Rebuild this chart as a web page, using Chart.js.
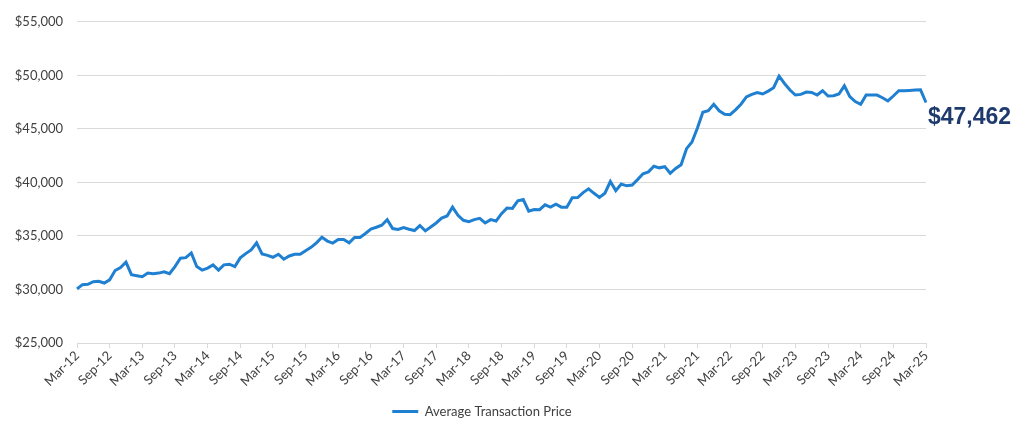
<!DOCTYPE html>
<html>
<head>
<meta charset="utf-8">
<script src="https://cdn.jsdelivr.net/npm/chart.js@4/dist/chart.umd.min.js"></script>
<style>
  html, body { margin: 0; padding: 0; background: #ffffff; }
  #wrap { width: 1024px; height: 438px; }
</style>
</head>
<body>
<div id="wrap"><canvas id="atpChart" width="1024" height="438"></canvas></div>
<script>
// monthly average transaction price, Mar-12 .. Mar-25
const monthNames = ['Jan', 'Feb', 'Mar', 'Apr', 'May', 'Jun', 'Jul', 'Aug', 'Sep', 'Oct', 'Nov', 'Dec'];
const firstYear = 12;
const firstMonth = 2; // Mar
const seriesName = 'Average Transaction Price';
const lastLabel = '$47,462';

const atpValues = [
    30050, 30450, 30480, 30730, 30760, 30600, 30900, 31770, 32050, 32550,
    31380, 31280, 31190, 31530, 31470, 31530, 31650, 31470, 32140, 32920,
    32970, 33410, 32140, 31810, 32000, 32300, 31810, 32300, 32360, 32140,
    32950, 33350, 33690, 34360, 33320, 33190, 33010, 33290, 32830, 33130,
    33290, 33290, 33620, 33930, 34360, 34890, 34520, 34330, 34670, 34670,
    34360, 34860, 34860, 35230, 35650, 35810, 36000, 36520, 35690, 35600,
    35780, 35620, 35500, 35970, 35470, 35840, 36210, 36670, 36860, 37690,
    36920, 36460, 36340, 36520, 36640, 36210, 36520, 36390, 37080, 37600,
    37570, 38280, 38400, 37320, 37470, 37450, 37910, 37690, 37960, 37690,
    37690, 38560, 38580, 39050, 39400, 38980, 38600, 38990, 40080, 39230,
    39850, 39680, 39760, 40260, 40800, 40980, 41510, 41360, 41470, 40850,
    41300, 41650, 43150, 43780, 45080, 46550, 46700, 47300, 46690, 46370,
    46320, 46780, 47300, 47980, 48220, 48400, 48260, 48530, 48840, 49920,
    49240, 48630, 48160, 48220, 48440, 48400, 48160, 48560, 48070, 48100,
    48260, 49020, 48010, 47550, 47300, 48160, 48160, 48160, 47910, 47610,
    48070, 48560, 48560, 48590, 48630, 48650, 47462
];

const yTicks = [25000, 30000, 35000, 40000, 45000, 50000, 55000];

let monthLabels = [];
for (let i = 0; i < atpValues.length; i++) {
    const m = (firstMonth + i) % 12;
    const y = firstYear + Math.floor((firstMonth + i) / 12);
    monthLabels.push(monthNames[m] + '-' + y);
}

const lastValuePlugin = {
    id: 'lastValue',
    afterDatasetsDraw(chart) {
        const meta = chart.getDatasetMeta(0);
        const pt = meta.data[meta.data.length - 1];
        const ctx = chart.ctx;
        ctx.save();
        ctx.font = 'bold 23px "Liberation Sans", Arial, sans-serif';
        ctx.fillStyle = '#1f3b6e';
        ctx.textAlign = 'left';
        ctx.textBaseline = 'middle';
        ctx.fillText(lastLabel, pt.x + 2, pt.y + 15);
        ctx.restore();
    }
};

const ctx = document.getElementById('atpChart').getContext('2d');
new Chart(ctx, {
    type: 'line',
    data: {
        labels: monthLabels,
        datasets: [{
            label: seriesName,
            data: atpValues,
            borderColor: '#1f80d2',
            backgroundColor: '#1f80d2',
            borderWidth: 3,
            pointRadius: 0,
            tension: 0,
            pointStyle: 'line'
        }]
    },
    options: {
        responsive: false,
        animation: false,
        layout: { padding: { left: 0, right: 60, top: 12, bottom: 10 } },
        plugins: {
            tooltip: { enabled: false },
            legend: {
                position: 'bottom',
                labels: {
                    usePointStyle: true,
                    pointStyleWidth: 26,
                    padding: 10,
                    color: '#404040',
                    font: { size: 13, family: 'Lato' }
                }
            }
        },
        scales: {
            x: {
                afterFit: function (scale) { scale.height = 52; },
                grid: {
                    drawOnChartArea: false,
                    color: '#d9d9d9',
                    tickLength: 5
                },
                border: { display: true, color: '#d9d9d9' },
                ticks: {
                    autoSkip: false,
                    maxRotation: 45,
                    minRotation: 45,
                    padding: 0,
                    color: '#404040',
                    font: { size: 13, family: 'Lato' },
                    callback: function (value, index) {
                        return index % 6 === 0 ? monthLabels[index] : null;
                    }
                }
            },
            y: {
                min: yTicks[0],
                max: yTicks[yTicks.length - 1],
                afterFit: function (scale) { scale.width = 77; },
                afterBuildTicks: function (scale) {
                    scale.ticks = yTicks.map(v => ({ value: v }));
                },
                grid: { color: '#d9d9d9', drawTicks: false },
                border: { display: false },
                ticks: {
                    padding: 14,
                    color: '#404040',
                    font: { size: 13, family: 'Lato' },
                    callback: function (value) {
                        return '$' + value.toLocaleString('en-US');
                    }
                }
            },
            // empty spacer on the right, room for the last value label
            spacer: {
                position: 'right',
                afterFit: function (scale) { scale.width = 38; },
                grid: { display: false },
                border: { display: false },
                ticks: { display: false }
            }
        }
    },
    plugins: [lastValuePlugin]
});
</script>
</body>
</html>
